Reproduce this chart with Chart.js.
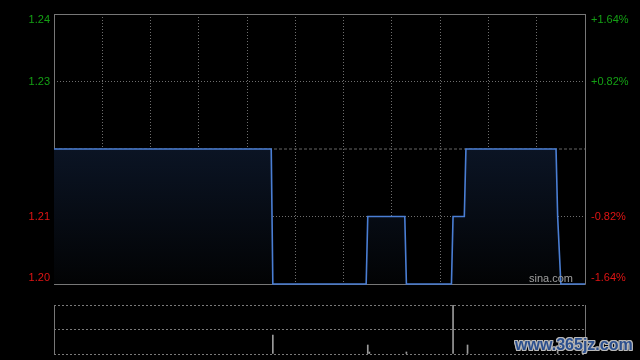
<!DOCTYPE html>
<html>
<head>
<meta charset="utf-8">
<script src="https://cdn.jsdelivr.net/npm/chart.js@4/dist/chart.umd.min.js"></script>
<style>
  html, body { margin: 0; padding: 0; background: #000; }
  #wrap { position: relative; width: 640px; height: 360px; overflow: hidden; background: #000; }
  #priceBox { position: absolute; left: 0; top: 0; width: 640px; height: 295px; }
  #volBox { position: absolute; left: 0; top: 295px; width: 640px; height: 65px; }
  #mark {
    position: absolute; left: 515px; top: 336px;
    font: bold 16px "Liberation Sans", Arial, sans-serif;
    color: #2b4f8e;
    text-shadow: 1px 0 #b8b8b8, -1px 0 #b8b8b8, 0 1px #b8b8b8, 0 -1px #b8b8b8,
                 1px 1px #b8b8b8, -1px -1px #b8b8b8, 1px -1px #b8b8b8, -1px 1px #b8b8b8;
  }
</style>
</head>
<body>
<div id="wrap">
  <div id="priceBox"><canvas id="priceChart"></canvas></div>
  <div id="volBox"><canvas id="volChart"></canvas></div>
  <div id="mark">www.365jz.com</div>
</div>
<script>
// trading minutes from open (HK session, 330 min) and price at that minute
const minutes = [0, 135, 136, 194, 195, 218, 219, 247, 248, 255, 256, 312, 313, 315, 330];
const prices  = [1.22, 1.22, 1.20, 1.20, 1.21, 1.21, 1.20, 1.20, 1.21, 1.21, 1.22, 1.22, 1.21, 1.20, 1.20];
const prevClose = 1.22;

const leftTicks  = [1.24, 1.23, 1.21, 1.20];
const rightTicks = ['+1.64%', '+0.82%', '-0.82%', '-1.64%'];

// volume bars
const volMinutes = [136, 195, 196, 219, 248, 257, 313];
const volValues  = [38, 18, 4, 4, 98, 18, 6];

const gridColor = '#6e6e6e';
const frameColor = '#777';
const upColor = '#14a014';
const downColor = '#e01414';

function fixWidth(w) {
  return function(scale) { scale.width = w; };
}

const framePlugin = {
  id: 'frame',
  beforeDatasetsDraw(chart, args, opts) {
    const a = chart.chartArea;
    const ctx = chart.ctx;
    ctx.save();
    ctx.strokeStyle = frameColor;
    ctx.lineWidth = 1;
    ctx.beginPath();
    if (opts.full) {
      ctx.rect(Math.round(a.left) + 0.5, Math.round(a.top) + 0.5,
               Math.round(a.right - a.left), Math.round(a.bottom - a.top));
    } else {
      ctx.moveTo(Math.round(a.left) + 0.5, a.top);
      ctx.lineTo(Math.round(a.left) + 0.5, a.bottom);
      ctx.moveTo(Math.round(a.right) + 0.5, a.top);
      ctx.lineTo(Math.round(a.right) + 0.5, a.bottom);
    }
    ctx.stroke();
    ctx.restore();
  }
};

const labelPlugin = {
  id: 'sideLabels',
  afterDraw(chart) {
    const y = chart.scales.y;
    const a = chart.chartArea;
    const ctx = chart.ctx;
    ctx.save();
    ctx.font = '11px "Liberation Sans", Arial, sans-serif';
    ctx.textBaseline = 'middle';
    leftTicks.forEach((v, i) => {
      let py = y.getPixelForValue(v);
      py = Math.min(Math.max(py, a.top + 6), a.bottom - 6);
      ctx.fillStyle = v > prevClose ? upColor : downColor;
      ctx.textAlign = 'right';
      ctx.fillText(v.toFixed(2), a.left - 4, py);
      ctx.textAlign = 'left';
      ctx.fillText(rightTicks[i], a.right + 6, py);
    });
    ctx.fillStyle = '#a0a0a0';
    ctx.textAlign = 'right';
    ctx.textBaseline = 'alphabetic';
    ctx.fillText('sina.com', a.right - 12, a.bottom - 2);
    ctx.restore();
  }
};

const pricePts = minutes.map((m, i) => ({x: m, y: prices[i]}));
const closePts = [{x: 0, y: prevClose}, {x: 330, y: prevClose}];

new Chart(document.getElementById('priceChart'), {
  type: 'line',
  data: {
    datasets: [
      {
        data: pricePts,
        borderColor: '#4a7ed4',
        borderWidth: 1.6,
        pointRadius: 0,
        tension: 0,
        fill: 'start',
        clip: 4,
        order: 1,
        backgroundColor: function(ctx) {
          const ca = ctx.chart.chartArea;
          if (!ca) return 'rgba(0,0,0,0)';
          const g = ctx.chart.ctx.createLinearGradient(0, ca.top, 0, ca.bottom);
          g.addColorStop(0, '#0c1626');
          g.addColorStop(0.5, '#0b1424');
          g.addColorStop(1, '#020304');
          return g;
        }
      },
      {
        data: closePts,
        borderColor: '#666',
        borderWidth: 1,
        borderDash: [3, 2],
        pointRadius: 0,
        fill: false,
        order: 2
      }
    ]
  },
  options: {
    responsive: true,
    maintainAspectRatio: false,
    animation: false,
    events: [],
    layout: { padding: { top: 14, bottom: 11, left: 0, right: 55 } },
    plugins: { legend: { display: false }, tooltip: { enabled: false }, frame: { full: true } },
    scales: {
      x: {
        type: 'linear',
        min: 0,
        max: 330,
        afterFit: function(scale) { scale.height = 0; },
        ticks: { display: false, stepSize: 30 },
        grid: { color: gridColor, drawTicks: false },
        border: { display: false, dash: [1, 2] }
      },
      y: {
        min: 1.20,
        max: 1.24,
        afterFit: fixWidth(54),
        ticks: { display: false, stepSize: 0.01 },
        grid: {
          drawTicks: false,
          color: function(c) {
            const v = c.tick ? c.tick.value : 0;
            return Math.abs(v - prevClose) < 0.001 ? 'rgba(0,0,0,0)' : gridColor;
          }
        },
        border: { display: false, dash: [1, 2] }
      }
    }
  },
  plugins: [framePlugin, labelPlugin]
});

new Chart(document.getElementById('volChart'), {
  type: 'bar',
  data: {
    datasets: [{
      data: volMinutes.map((m, i) => ({x: m, y: volValues[i]})),
      backgroundColor: '#9a9a9a',
      barThickness: 1
    }]
  },
  options: {
    responsive: true,
    maintainAspectRatio: false,
    animation: false,
    events: [],
    layout: { padding: { top: 10, bottom: 6, left: 0, right: 55 } },
    plugins: { legend: { display: false }, tooltip: { enabled: false }, frame: { full: false } },
    scales: {
      x: {
        type: 'linear',
        min: 0,
        max: 330,
        offset: false,
        afterFit: function(scale) { scale.height = 0; },
        ticks: { display: false },
        grid: { display: false, offset: false },
        border: { display: false }
      },
      y: {
        min: 0,
        max: 98,
        afterFit: fixWidth(54),
        ticks: { display: false, stepSize: 49 },
        grid: { color: '#7a7a7a', drawTicks: false, lineWidth: 1 },
        border: { display: false, dash: [2, 2] }
      }
    }
  },
  plugins: [framePlugin]
});
</script>
</body>
</html>
